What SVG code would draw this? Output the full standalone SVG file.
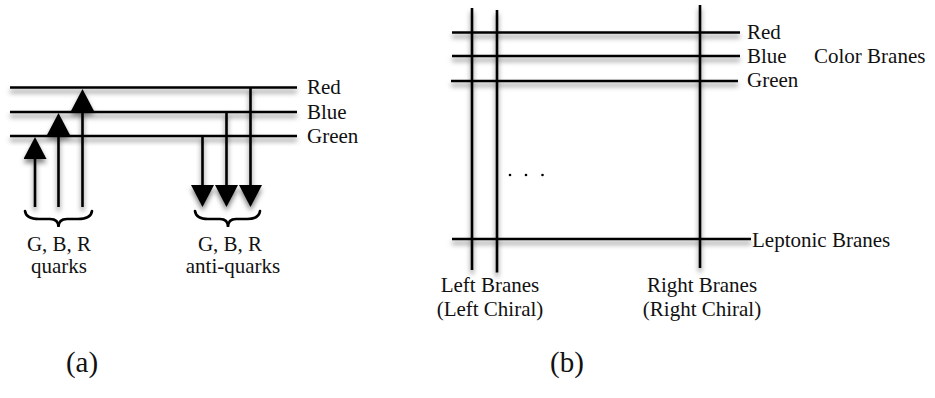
<svg xmlns="http://www.w3.org/2000/svg" width="935" height="398" viewBox="0 0 935 398">
  <style>
    .ln { stroke: #000; stroke-width: 2.6; fill: none; }
    .br { stroke: #000; stroke-width: 2.6; fill: none; stroke-linecap: round; }
    .t { font-family: "Liberation Serif", "Times New Roman", serif; font-size: 21px; fill: #111; }
    .big { font-size: 29px; }
    .mid { text-anchor: middle; }
  </style>
  <defs>
    <filter id="shadow" x="-10%" y="-10%" width="120%" height="130%">
      <feDropShadow dx="0" dy="4" stdDeviation="2.5" flood-color="#000" flood-opacity="0.5"/>
    </filter>
    <marker id="head" viewBox="0 0 22 23" refX="12" refY="11.5" markerWidth="22" markerHeight="23" markerUnits="userSpaceOnUse" orient="auto">
      <path d="M0,0 L22,11.5 L0,23 Z" fill="#000"/>
    </marker>
  </defs>

  <!-- Panel (a): colour levels with quark and anti-quark transitions -->
  <g id="levels-a" filter="url(#shadow)">
    <line id="a-red" class="ln" x1="10" y1="87.5" x2="297" y2="87.5"/>
    <line id="a-blue" class="ln" x1="10" y1="112" x2="297" y2="112"/>
    <line id="a-green" class="ln" x1="10" y1="136" x2="297" y2="136"/>
  </g>
  <g id="arrows-a" filter="url(#shadow)">
    <line class="ln" x1="35" y1="207" x2="35" y2="147" marker-end="url(#head)"/>
    <line class="ln" x1="58.5" y1="207" x2="58.5" y2="123" marker-end="url(#head)"/>
    <line class="ln" x1="82.5" y1="207" x2="82.5" y2="99" marker-end="url(#head)"/>
    <line class="ln" x1="202.5" y1="136" x2="202.5" y2="197" marker-end="url(#head)"/>
    <line class="ln" x1="226.5" y1="112" x2="226.5" y2="197" marker-end="url(#head)"/>
    <line class="ln" x1="250.5" y1="87.5" x2="250.5" y2="197" marker-end="url(#head)"/>
  </g>
  <g id="braces-a">
    <path class="br" d="M25,211 Q26,219 39,219 L50,219 Q58.5,219 58.5,227 Q58.5,219 67,219 L78,219 Q91,219 92,211"/>
    <path class="br" d="M195,211 Q196,219 208,219 L220,219 Q228,219 228,227 Q228,219 236,219 L247,219 Q259,219 260,211"/>
  </g>
  <g id="labels-a">
    <text class="t" x="307" y="94">Red</text>
    <text class="t" x="307" y="118.5">Blue</text>
    <text class="t" x="307" y="142.5">Green</text>
    <text class="t mid" x="59" y="251">G, B, R</text>
    <text class="t mid" x="59" y="273">quarks</text>
    <text class="t mid" x="230" y="251">G, B, R</text>
    <text class="t mid" x="233" y="273">anti-quarks</text>
    <text class="t big mid" x="82" y="372">(a)</text>
  </g>

  <!-- Panel (b): intersecting brane stacks -->
  <g id="branes-b" filter="url(#shadow)">
    <line id="b-red" class="ln" x1="452" y1="32.5" x2="740" y2="32.5"/>
    <line id="b-blue" class="ln" x1="452" y1="56" x2="740" y2="56"/>
    <line id="b-green" class="ln" x1="451" y1="81" x2="738" y2="81"/>
    <line id="b-lepton" class="ln" x1="452" y1="239" x2="751" y2="239"/>
    <line id="b-left1" class="ln" x1="472" y1="8" x2="472" y2="270"/>
    <line id="b-left2" class="ln" x1="497" y1="10" x2="497" y2="272.5"/>
    <line id="b-right" class="ln" x1="700" y1="5" x2="700" y2="268"/>
  </g>
  <g id="dots-b" fill="#000">
    <circle cx="510" cy="175" r="1.3"/>
    <circle cx="526" cy="175" r="1.3"/>
    <circle cx="542.5" cy="175" r="1.3"/>
  </g>
  <g id="labels-b">
    <text class="t" x="747" y="39">Red</text>
    <text class="t" x="747" y="62.5">Blue</text>
    <text class="t" x="814" y="62.5">Color Branes</text>
    <text class="t" x="752" y="247">Leptonic Branes</text>
    <text class="t" x="747" y="87">Green</text>
    <text class="t mid" x="490" y="292">Left Branes</text>
    <text class="t mid" x="490" y="315.5">(Left Chiral)</text>
    <text class="t mid" x="702" y="292">Right Branes</text>
    <text class="t mid" x="702" y="315.5">(Right Chiral)</text>
    <text class="t big mid" x="567" y="372">(b)</text>
  </g>
</svg>
